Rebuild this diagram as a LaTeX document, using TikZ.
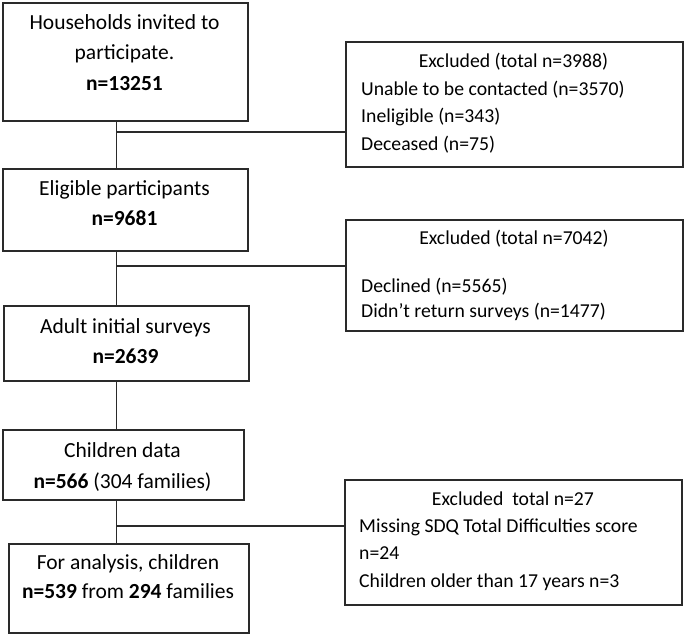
\documentclass[tikz,border=0pt]{standalone}
\usepackage{fontspec}
\setmainfont{Carlito}
\usetikzlibrary{positioning}
\definecolor{LineGray}{HTML}{2A2A2A}

\begin{document}
\begin{tikzpicture}[x=1pt,y=-1pt,
  box/.style={draw=LineGray,line width=1.9pt,inner sep=0pt,anchor=north west},
  link/.style={draw=LineGray,line width=1.9pt},
  stagetxt/.style={align=center,inner sep=0pt,anchor=base},
  headtxt/.style={inner sep=0pt,anchor=base,font=\fontsize{19.7}{27.7}\selectfont},
  listtxt/.style={align=left,inner sep=0pt,anchor=base west}]
  \useasboundingbox (0,0) rectangle (685,634);

  % main stages
  \node[box,minimum width=245pt,minimum height=118pt] (hh) at (2,2) {};
  \node[box,minimum width=245pt,minimum height=82pt] (el) at (2,168) {};
  \node[box,minimum width=245pt,minimum height=75pt] (ad) at (3,305) {};
  \node[box,minimum width=241pt,minimum height=70pt] (ch) at (2,429) {};
  \node[box,minimum width=240pt,minimum height=89pt] (an) at (8,543) {};

  % texts sit on the baseline of their last line
  \node[stagetxt,font=\fontsize{21.5}{30.5}\selectfont] (hhText) at (124.5,90)
    {Households invited to\\participate.\\\textbf{n=13251}};
  \node[stagetxt,font=\fontsize{21.5}{30}\selectfont] (elText) at (124.5,225)
    {Eligible participants\\\textbf{n=9681}};
  \node[stagetxt,font=\fontsize{21.5}{30}\selectfont] (adText) at (125.5,363)
    {Adult initial surveys\\\textbf{n=2639}};
  \node[stagetxt,font=\fontsize{21.5}{31}\selectfont] (chText) at (122.5,488)
    {Children data\\\textbf{n=566} (304 families)};
  \node[stagetxt,font=\fontsize{21.5}{29}\selectfont] (anText) at (128,598)
    {For analysis, children\\\textbf{n=539} from \textbf{294} families};

  % exclusions
  \node[box,minimum width=337pt,minimum height=125pt] (ex1) at (345,41) {};
  \node[box,minimum width=337pt,minimum height=111pt] (ex2) at (345,219) {};
  \node[box,minimum width=337pt,minimum height=125pt] (ex3) at (344,479) {};

  \node[headtxt] (ex1Head) at (513.5,67) {Excluded (total n=3988)};
  \node[listtxt,font=\fontsize{19.7}{27.7}\selectfont] (ex1List) at (361,150.4)
    {Unable to be contacted (n=3570)\\Ineligible (n=343)\\Deceased (n=75)};
  \node[headtxt] (ex2Head) at (514,244) {Excluded (total n=7042)};
  \node[listtxt,font=\fontsize{19.7}{25}\selectfont] (ex2List) at (361,317)
    {Declined (n=5565)\\Didn’t return surveys (n=1477)};
  \node[headtxt] (ex3Head) at (513,505) {Excluded\ \ total n=27};
  \node[listtxt,font=\fontsize{19.7}{27.7}\selectfont] (ex3List) at (359,587.4)
    {Missing SDQ Total Difficulties score\\n=24\\Children older than 17 years n=3};

  % spine and branches
  \coordinate (sp) at (116.5,0);
  \draw[link] (hh.south -| sp) -- (el.north -| sp);
  \draw[link] (el.south -| sp) -- (ad.north -| sp);
  \draw[link] (ad.south -| sp) -- (ch.north -| sp);
  \draw[link] (ch.south -| sp) -- (an.north -| sp);

  \coordinate (b1) at (116.5,132);
  \coordinate (b2) at (116.5,266);
  \coordinate (b3) at (116.5,526);
  \draw[link] (b1) -- (b1 -| ex1.west);
  \draw[link] (b2) -- (b2 -| ex2.west);
  \draw[link] (b3) -- (b3 -| ex3.west);
\end{tikzpicture}
\end{document}
